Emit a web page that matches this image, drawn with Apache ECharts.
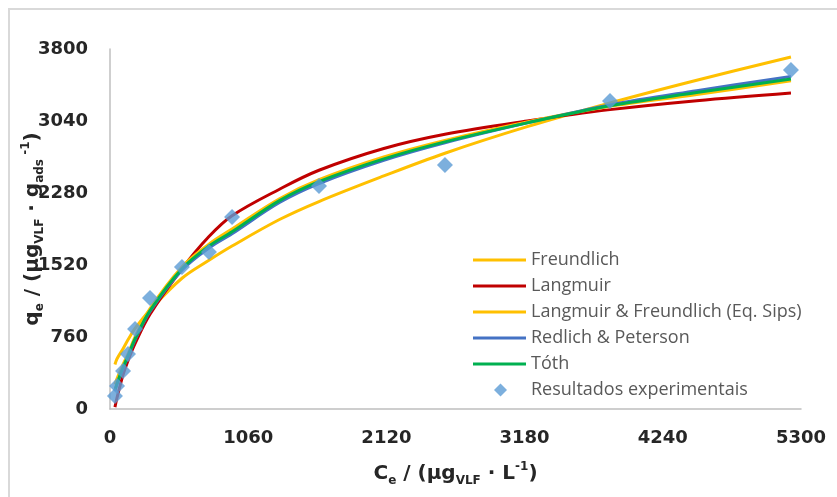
<!DOCTYPE html>
<html>
<head>
<meta charset="utf-8">
<script src="https://cdn.jsdelivr.net/npm/echarts@6/dist/echarts.min.js"></script>
<style>
  html, body {margin: 0; padding: 0; background: #fff;}
  #chart {width: 837px; height: 497px;}
</style>
</head>
<body>
<div id="chart"></div>
<script>
const modelCe = [38, 54, 100, 138, 192, 307, 552, 759, 936, 1300, 1603, 2100, 2569, 3200, 3835, 4500, 5223];
const freundlich = [470, 530, 635, 730, 850, 1045, 1380, 1570, 1720, 2000, 2190, 2460, 2700, 2980, 3230, 3470, 3716];
const langmuir = [20, 120, 360, 510, 690, 1000, 1480, 1820, 2040, 2320, 2520, 2750, 2900, 3040, 3160, 3255, 3336];
const sips = [260, 320, 470, 580, 760, 1060, 1500, 1740, 1900, 2220, 2420, 2660, 2835, 3030, 3195, 3320, 3465];
const redlichPeterson = [190, 260, 430, 550, 730, 1030, 1465, 1700, 1850, 2180, 2380, 2625, 2810, 3020, 3210, 3360, 3510];
const toth = [200, 270, 440, 560, 740, 1040, 1480, 1720, 1870, 2200, 2400, 2640, 2820, 3020, 3200, 3340, 3483];

// experimental results
const expCe = [38, 54, 100, 138, 192, 307, 552, 759, 936, 1603, 2569, 3835, 5223];
const expQe = [137, 243, 401, 580, 844, 1172, 1499, 1657, 2027, 2354, 2576, 3251, 3578];

const lineNames = [
  "Freundlich",
  "Langmuir",
  "Langmuir & Freundlich (Eq. Sips)",
  "Redlich & Peterson",
  "Tóth",
];
const pointName = "Resultados experimentais";
const lineColors = ["#FFC000", "#C00000", "#FFC000", "#4472C4", "#00B050"];
const pointColor = "#5B9BD5";

const zip = (xs, ys) => xs.map((x, i) => [x, ys[i]]);

const chart = echarts.init(document.getElementById("chart"), null, {renderer: "canvas"});

const modelValues = [freundlich, langmuir, sips, redlichPeterson, toth];
const lineSeries = modelValues.map((vals, i) => ({
  name: lineNames[i],
  type: "line",
  data: zip(modelCe, vals),
  smooth: 0.35,
  symbol: "none",
  lineStyle: {color: lineColors[i], width: 3},
  itemStyle: {color: lineColors[i]},
  z: 2 + i,
}));

const font = "DejaVu Sans";
const titleRich = {
  b: {fontSize: 20, fontWeight: "bold", color: "#262626", fontFamily: font, lineHeight: 26},
  s: {fontSize: 12, fontWeight: "bold", color: "#262626", fontFamily: font, verticalAlign: "bottom", lineHeight: 12},
  p: {fontSize: 12, fontWeight: "bold", color: "#262626", fontFamily: font, verticalAlign: "top", lineHeight: 12},
};
const legendText = {fontSize: 18, color: "#595959", fontFamily: "Open Sans", lineHeight: 20};

const option = {
  animation: false,
  backgroundColor: "#fff",
  grid: {left: 110, right: 36, top: 49, bottom: 88, containLabel: false, outerBoundsMode: "none"},
  graphic: [{
    type: "rect",
    shape: {x: 9, y: 9, width: 900, height: 600},
    style: {fill: "none", stroke: "#D9D9D9", lineWidth: 2},
    silent: true,
  }],
  legend: [
    {
      orient: "vertical",
      left: 468,
      top: 245,
      icon: "rect",
      itemWidth: 53,
      itemHeight: 3,
      itemGap: 6,
      textStyle: legendText,
      data: lineNames,
    },
    {
      orient: "vertical",
      left: 489,
      top: 375,
      itemWidth: 13,
      itemHeight: 13,
      textStyle: {...legendText, padding: [0, 0, 0, 19]},
      data: [pointName],
    },
  ],
  xAxis: {
    type: "value",
    min: 0,
    max: 5300,
    interval: 1060,
    splitLine: {show: false},
    axisTick: {show: false},
    axisLine: {lineStyle: {color: "#BFBFBF", width: 1.5}},
    axisLabel: {color: "#262626", fontSize: 18, fontWeight: "bold", fontFamily: font, margin: 20,
      formatter: (v) => String(v)},
    name: "{b|C}{s|e}{b| / (μg}{s|VLF}{b| · L}{p|-1}{b|)}",
    nameLocation: "middle",
    nameGap: 52,
    nameMoveOverlap: false,
    nameTextStyle: {rich: titleRich},
  },
  yAxis: {
    type: "value",
    min: 0,
    max: 3800,
    interval: 760,
    splitLine: {show: false},
    axisTick: {show: false},
    axisLine: {show: true, lineStyle: {color: "#BFBFBF", width: 1.5}},
    axisLabel: {color: "#262626", fontSize: 18, fontWeight: "bold", fontFamily: font, margin: 22,
      formatter: (v) => String(v)},
    name: "{b|q}{s|e}{b| / (μg}{s|VLF}{b| · g}{s|ads}{p| -1}{b|)}",
    nameLocation: "middle",
    nameRotate: 90,
    nameGap: 64,
    nameMoveOverlap: false,
    nameTextStyle: {rich: titleRich},
  },
  series: [
    ...lineSeries,
    {
      name: pointName,
      type: "scatter",
      data: zip(expCe, expQe),
      symbol: "diamond",
      symbolSize: 16,
      itemStyle: {color: pointColor},
      z: 10,
    },
  ],
};

chart.setOption(option);
</script>
</body>
</html>
